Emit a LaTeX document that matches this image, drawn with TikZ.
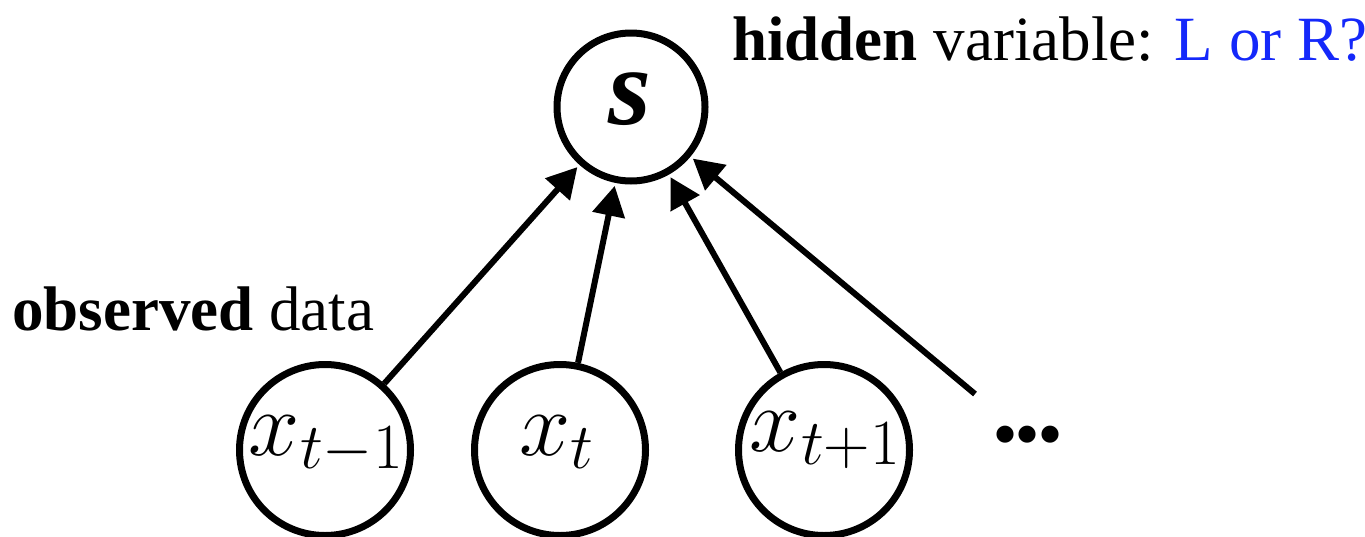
\RequirePackage{fix-cm}
\documentclass[tikz,border=0pt]{standalone}
\usepackage{fontspec}
\setmainfont{Liberation Serif}
\usetikzlibrary{arrows.meta}
\definecolor{lrblue}{RGB}{20,40,250}
\tikzset{
  var/.style={draw, circle, line width=7pt, inner sep=0pt},
  lbl/.style={inner sep=0pt, anchor=base},
  edge/.style={line width=6pt, -{Triangle[length=30pt,width=32pt]}, shorten >=3pt},
  txt/.style={inner sep=0pt, anchor=base west, font=\fontsize{63}{70}\selectfont},
}
\begin{document}
\begin{tikzpicture}[x=1pt,y=-1pt]
\useasboundingbox (0,0) rectangle (1365,536);
\node[var, minimum size=148pt] (s) at (631,107) {};
\node[lbl, font=\fontsize{110}{120}\selectfont\bfseries\itshape] (stxt) at (630,124) {s};
\node[var, minimum size=171pt] (xa) at (325,450) {};
\node[var, minimum size=171pt] (xb) at (560,450) {};
\node[var, minimum size=171pt] (xc) at (824,450) {};
\node[lbl, font=\fontsize{92}{100}\selectfont] (xatxt) at (326,455) {$x_{t-1}$};
\node[lbl, font=\fontsize{92}{100}\selectfont] (xbtxt) at (557,455) {$x_t$};
\node[lbl, font=\fontsize{92}{100}\selectfont] (xctxt) at (825,451) {$x_{t+1}$};
\node[lbl, font=\fontsize{63}{70}\selectfont\bfseries] (dots) at (1028,455) {\char"2022\char"2022\char"2022};
\coordinate (free) at (975,394);
\draw[edge] (xa) -- (s);
\draw[edge] (xb) -- (s);
\draw[edge] (xc) -- (s);
\draw[edge] (free) -- (s);
\node[txt] (hidden) at (732,60) {\textbf{hidden} variable: \textcolor{lrblue}{L or R?}};
\node[txt] (obs) at (12,330) {\textbf{observed} data};
\end{tikzpicture}
\end{document}
